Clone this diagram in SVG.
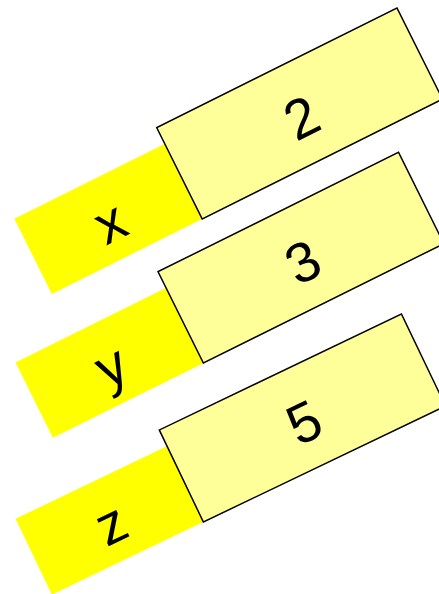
<svg xmlns="http://www.w3.org/2000/svg" width="439" height="594" viewBox="0 0 439 594">
  <style>
    .name { fill: #ffff00; stroke: none; }
    .value { fill: #ffff99; stroke: #000; stroke-width: 1.5; }
    .txt { font-family: "Liberation Sans", "DejaVu Sans", sans-serif; font-size: 56px; fill: #000; text-anchor: middle; }
  </style>
  <rect width="439" height="594" fill="#fff"/>
  <!-- each variable: a name tag followed by its value box, tilted -->
  <g id="var-x" transform="translate(156.7,127.7) rotate(-26.5)">
    <rect class="name" x="-168" y="18" width="170" height="84"/>
    <rect class="value" x="0" y="0" width="268.5" height="102"/>
    <text class="txt" x="-84" y="83">x</text>
    <text class="txt" x="134" y="75">2</text>
  </g>
  <g id="var-y" transform="translate(158,271.7) rotate(-26.4)">
    <rect class="name" x="-168" y="18" width="170" height="84"/>
    <rect class="value" x="0" y="0" width="268.5" height="102"/>
    <text class="txt" x="-84" y="83">y</text>
    <text class="txt" x="134" y="75">3</text>
  </g>
  <g id="var-z" transform="translate(159.3,430) rotate(-25.6)">
    <rect class="name" x="-168" y="18" width="170" height="84"/>
    <rect class="value" x="0" y="0" width="268.5" height="102"/>
    <text class="txt" x="-84" y="83">z</text>
    <text class="txt" x="134" y="75">5</text>
  </g>
  <g id="connectors"/>
</svg>
